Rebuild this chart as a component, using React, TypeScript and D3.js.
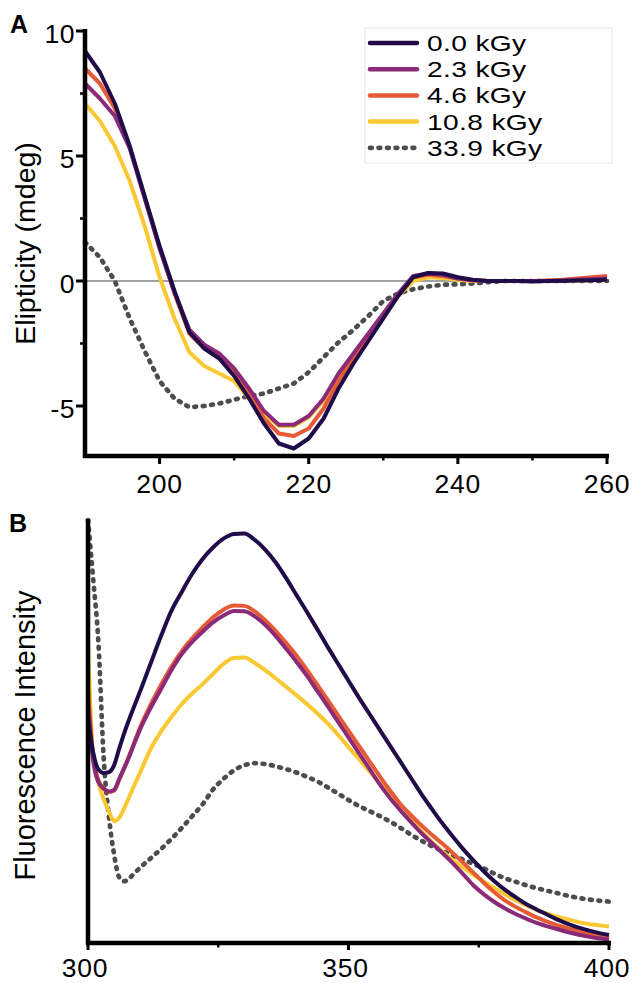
import React from 'react';
import * as d3 from 'd3';

// ---------- Panel A: CD spectra ----------
const wavelengthA = [190, 192, 194, 196, 198, 200, 202, 204, 206, 208, 210, 212, 214, 216, 218, 220, 222, 224, 226, 228, 230, 232, 234, 236, 238, 240, 242, 244, 246, 248, 250, 252, 254, 256, 258, 260];
const cd00 = [9.2, 8.35, 7.1, 5.4, 3.4, 1.4, -0.4, -2.05, -2.7, -3.1, -3.8, -4.7, -5.7, -6.5, -6.7, -6.3, -5.5, -4.3, -3.3, -2.4, -1.5, -0.6, 0.15, 0.32, 0.3, 0.15, 0.05, 0.0, 0.0, 0.0, -0.02, 0.0, 0.0, 0.02, 0.03, 0.05];
const cd23 = [7.9, 7.3, 6.6, 5.3, 3.3, 1.3, -0.45, -1.95, -2.55, -2.9, -3.5, -4.3, -5.2, -5.75, -5.75, -5.4, -4.7, -3.7, -2.9, -2.1, -1.3, -0.5, 0.2, 0.3, 0.25, 0.1, 0.03, 0.0, 0.0, 0.0, 0.0, 0.0, 0.02, 0.05, 0.08, 0.1];
const cd46 = [8.5, 7.9, 6.9, 5.35, 3.35, 1.35, -0.5, -2.1, -2.7, -3.05, -3.7, -4.5, -5.5, -6.1, -6.2, -5.9, -5.1, -4.0, -3.1, -2.25, -1.4, -0.55, 0.15, 0.25, 0.2, 0.1, 0.03, 0.0, 0.0, 0.0, 0.0, 0.02, 0.05, 0.1, 0.15, 0.2];
const cd108 = [7.1, 6.4, 5.4, 4.0, 2.2, 0.15, -1.5, -2.85, -3.4, -3.7, -4.0, -4.7, -5.3, -5.8, -5.8, -5.45, -4.8, -3.8, -3.0, -2.2, -1.4, -0.6, 0.0, 0.15, 0.12, 0.05, 0.0, 0.0, 0.0, 0.0, 0.0, 0.0, 0.0, 0.02, 0.03, 0.05];
const cd339 = [1.55, 0.95, 0.0, -1.5, -2.8, -4.0, -4.7, -5.05, -5.0, -4.9, -4.75, -4.6, -4.5, -4.3, -4.1, -3.65, -3.05, -2.45, -1.95, -1.4, -0.8, -0.5, -0.33, -0.22, -0.15, -0.13, -0.1, -0.05, 0, 0, 0, 0, 0, 0, 0, 0];
const yTicksA = [10, 5, 0, -5];
const yMinorA = [7.5, 2.5, -2.5];
const xTicksA = [200, 220, 240, 260];
const xMinorA = [210, 230, 250];

// ---------- Panel B: fluorescence spectra ----------
const wavelengthB = [300, 301, 302, 303, 304, 305, 306, 307, 308, 309, 310, 312, 314, 316, 318, 320, 322, 324, 326, 328, 330, 332, 334, 336, 338, 340, 342, 344, 346, 348, 350, 352, 354, 356, 358, 360, 362, 364, 366, 368, 370, 372, 374, 376, 378, 380, 382, 384, 386, 388, 390, 392, 394, 396, 398, 400];
const fl00 = [53, 45, 41, 40.2, 40.4, 42, 46, 49.8, 53.2, 56.4, 59.5, 66, 72.5, 78.5, 83, 87.3, 90.8, 93.5, 95.6, 96.7, 96.8, 95.3, 93, 90, 86.3, 82.3, 78.3, 74.2, 70, 66, 62, 58, 54.2, 50.4, 46.6, 42.8, 39, 35.2, 31.7, 28.3, 25.2, 22.2, 19.5, 16.9, 14.6, 12.6, 10.9, 9.3, 8, 6.8, 5.6, 4.6, 3.7, 3, 2.4, 1.9];
const fl23 = [57, 43, 38, 36.5, 35.8, 36.2, 38.8, 41.5, 44.3, 47.5, 50.5, 55.5, 60, 64.5, 68.3, 71.2, 73.6, 75.8, 77.4, 78.5, 78.4, 77.2, 75.2, 72.6, 69.6, 66.5, 63.2, 59.6, 56, 52.3, 48.6, 44.9, 41.2, 37.5, 34.2, 31.3, 28.6, 26, 23.6, 21.3, 18.9, 16.3, 13.6, 11.5, 9.7, 8.2, 6.9, 5.8, 4.8, 4, 3.3, 2.6, 2, 1.5, 1.1, 0.8];
const fl46 = [60, 44, 38.5, 36.6, 35.7, 36, 38.6, 41.5, 44.6, 47.8, 51, 56.3, 61, 65.3, 69, 72, 74.6, 77, 78.8, 79.8, 79.7, 78.4, 76.3, 73.8, 71, 68, 64.6, 61.1, 57.5, 53.8, 50.2, 46.6, 43, 39.4, 36, 32.8, 30.2, 27.8, 25.6, 23.5, 21.3, 19, 16.6, 14.2, 12, 10.1, 8.6, 7.3, 6.1, 5.1, 4.2, 3.5, 2.8, 2.2, 1.7, 1.4];
const fl108 = [71, 44, 38, 34, 31.2, 28.8, 29.6, 32, 34.8, 37.6, 40.3, 45.8, 50, 53.4, 56.5, 59, 61.2, 63.6, 66, 67.4, 67.5, 66.2, 64.5, 62.6, 60.6, 58.6, 56.5, 54.3, 51.9, 49.2, 46.3, 43.5, 40.6, 37.8, 35, 32, 29.1, 26.4, 23.9, 21.7, 19.6, 17.8, 16.1, 14.5, 13, 11.5, 10.2, 9, 7.9, 7, 6.2, 5.6, 5, 4.5, 4.2, 3.9];
const fl339 = [100, 86, 71, 44, 30, 21, 15.5, 14.6, 15.4, 16.6, 17.8, 20, 22.2, 24.6, 27.2, 30, 32.8, 36.3, 38.8, 40.8, 42, 42.5, 42.3, 41.8, 41.1, 40.3, 39.3, 38.2, 36.8, 35.3, 33.8, 32.4, 31.2, 30, 28.7, 27.2, 25.6, 24.2, 22.9, 21.8, 20.7, 19.7, 18.7, 17.6, 16.4, 15.3, 14.5, 13.7, 13, 12.4, 11.8, 11.2, 10.7, 10.3, 10, 9.8];
const xTicksB = [300, 350, 400];
const xMinorB = [325, 375];

// ---------- Series ----------
const seriesLabels = ['0.0 kGy', '2.3 kGy', '4.6 kGy', '10.8 kGy', '33.9 kGy'];
const seriesColors = ['#1f0c48', '#8a2a78', '#e65a36', '#fac832', '#4d4d4d'];
const seriesA = [cd00, cd23, cd46, cd108, cd339];
const seriesB = [fl00, fl23, fl46, fl108, fl339];
const drawOrder = [4, 3, 2, 1, 0];

const FONT = 'Liberation Sans, Arial, Helvetica, sans-serif';
const DASH = '1.8 6.7';

export default function App() {
  // Panel A scales
  const xA = d3.scaleLinear().domain([190, 260]).range([85, 607]);
  const yA = d3.scaleLinear().domain([-7, 10]).range([456, 31]);
  // Panel B scales
  const xB = d3.scaleLinear().domain([300, 400]).range([88, 609]);
  const yB = d3.scaleLinear().domain([0, 100]).range([943, 520]);

  const lineA = (vals: number[]) =>
    d3.line<number>().x((_, i) => xA(wavelengthA[i])).y((v) => yA(v)).curve(d3.curveLinear)(vals) || '';
  const lineB = (vals: number[]) =>
    d3.line<number>().x((_, i) => xB(wavelengthB[i])).y((v) => yB(v)).curve(d3.curveMonotoneX)(vals) || '';

  const styleFor = (i: number) =>
    i === 4
      ? { stroke: seriesColors[i], strokeWidth: 4.7, strokeDasharray: DASH, strokeLinecap: 'round' as const }
      : { stroke: seriesColors[i], strokeWidth: 4, strokeLinecap: 'butt' as const };

  return (
    <svg width={634} height={983} style={{ position: 'absolute', left: 0, top: 0, background: '#fff' }} fontFamily={FONT}>
      <rect x={0} y={0} width={634} height={983} fill="#fff" />

      {/* ===== Panel A ===== */}
      <text x={10} y={33} fontSize={25} fontWeight="bold">A</text>
      {/* zero line */}
      <line x1={xA(190)} x2={xA(260)} y1={yA(0)} y2={yA(0)} stroke="#444" strokeWidth={1.2} />
      {drawOrder.map((i) => (
        <path key={'a' + i} d={lineA(seriesA[i])} fill="none" strokeLinejoin="round" {...styleFor(i)} />
      ))}
      {/* axes */}
      <line x1={xA(190)} x2={xA(190)} y1={29} y2={yA(-7) + 2} stroke="#000" strokeWidth={4.5} />
      <line x1={xA(190) - 2} x2={xA(260) + 2} y1={yA(-7)} y2={yA(-7)} stroke="#000" strokeWidth={4.5} />
      {yTicksA.map((t) => (
        <g key={'yt' + t}>
          <line x1={xA(190) - 9} x2={xA(190)} y1={yA(t)} y2={yA(t)} stroke="#000" strokeWidth={3} />
          <text x={75} y={yA(t) + 12} fontSize={26.5} textAnchor="end" letterSpacing={0.5}>{t}</text>
        </g>
      ))}
      {yMinorA.map((t) => (
        <line key={'ym' + t} x1={xA(190) - 5} x2={xA(190)} y1={yA(t)} y2={yA(t)} stroke="#000" strokeWidth={2.5} />
      ))}
      {xTicksA.map((t) => (
        <g key={'xt' + t}>
          <line x1={xA(t)} x2={xA(t)} y1={yA(-7)} y2={yA(-7) + 8} stroke="#000" strokeWidth={3} />
          <text x={xA(t)} y={493} fontSize={26.5} textAnchor="middle" letterSpacing={0.8}>{t}</text>
        </g>
      ))}
      {xMinorA.map((t) => (
        <line key={'xm' + t} x1={xA(t)} x2={xA(t)} y1={yA(-7)} y2={yA(-7) + 4.5} stroke="#000" strokeWidth={2.5} />
      ))}
      <text transform={`translate(35, ${(31 + 456) / 2}) rotate(-90)`} fontSize={28.5} textAnchor="middle">
        Elipticity (mdeg)
      </text>

      {/* legend */}
      <rect x={365} y={28} width={247} height={135} fill="#fff" stroke="#e6e6e6" strokeWidth={1} />
      {seriesLabels.map((lab, i) => {
        const cy = 43 + i * 26.2;
        return (
          <g key={'lg' + i}>
            <line x1={370} x2={417} y1={cy} y2={cy} {...styleFor(i)} strokeWidth={i === 4 ? 4.7 : 4.5} strokeLinecap="round" />
            <text transform={`translate(427, ${cy + 8}) scale(1.25, 1)`} fontSize={22.5} letterSpacing={0.3}>{lab}</text>
          </g>
        );
      })}

      {/* ===== Panel B ===== */}
      <text x={9} y={532} fontSize={25} fontWeight="bold">B</text>
      {drawOrder.map((i) => (
        <path key={'b' + i} d={lineB(seriesB[i])} fill="none" strokeLinejoin="round" {...styleFor(i)} />
      ))}
      <line x1={xB(300)} x2={xB(300)} y1={519} y2={yB(0) + 2} stroke="#000" strokeWidth={4.5} />
      <line x1={xB(300) - 2} x2={xB(400) + 2} y1={yB(0)} y2={yB(0)} stroke="#000" strokeWidth={4.5} />
      {xTicksB.map((t) => (
        <g key={'bxt' + t}>
          <line x1={xB(t)} x2={xB(t)} y1={yB(0)} y2={yB(0) + 7} stroke="#000" strokeWidth={3} />
          <text x={t === 400 ? xB(t) - 2 : xB(t) - 3} y={977} fontSize={26.5} textAnchor="middle" letterSpacing={0.8}>{t}</text>
        </g>
      ))}
      {xMinorB.map((t) => (
        <line key={'bxm' + t} x1={xB(t)} x2={xB(t)} y1={yB(0)} y2={yB(0) + 4.5} stroke="#000" strokeWidth={2.5} />
      ))}
      <text transform={`translate(35, ${(520 + 943) / 2 + 4}) rotate(-90)`} fontSize={29} textAnchor="middle">
        Fluorescence Intensity
      </text>
    </svg>
  );
}
